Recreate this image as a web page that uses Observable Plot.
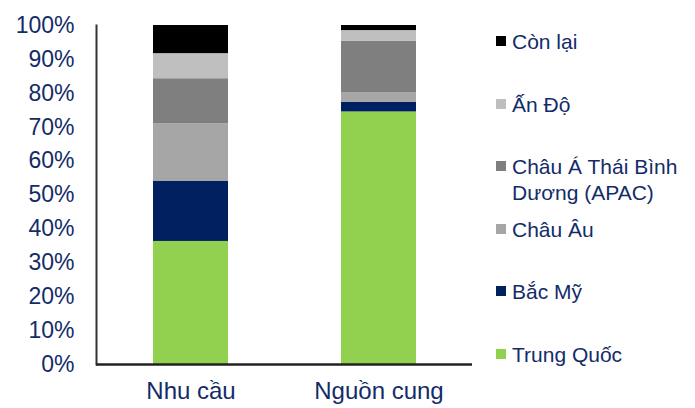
<!DOCTYPE html>
<html>
<head>
<meta charset="utf-8">
<script src="https://cdn.jsdelivr.net/npm/d3@7"></script>
<script src="https://cdn.jsdelivr.net/npm/@observablehq/plot@0.6"></script>
<style>
  html, body { margin: 0; padding: 0; background: #fff; }
  #wrap { position: relative; width: 695px; height: 408px; font-family: "Liberation Sans", Arial, sans-serif; }
  #legend { position: absolute; left: 496px; top: 29px; width: 195px; display: flex; flex-direction: column; }
  .item { height: 62.6px; display: flex; align-items: flex-start; color: #132c69; font-size: 21px; line-height: 26px; }
  .sw { width: 10px; height: 10px; flex: none; margin-top: 7px; margin-right: 6px; }
  .lbl { width: 180px; }
</style>
</head>
<body>
<div id="wrap"><div id="chart"></div><div id="legend"></div></div>
<script>
const categories = ["Nhu cầu", "Nguồn cung"];
const series = ["Trung Quốc", "Bắc Mỹ", "Châu Âu", "Châu Á Thái Bình Dương (APAC)", "Ấn Độ", "Còn lại"];
const colors = ["#92D050", "#002060", "#A6A6A6", "#7F7F7F", "#BFBFBF", "#000000"];
const trungQuoc = [36.3, 74.5];
const bacMy = [17.8, 2.8];
const chauAu = [16.9, 2.9];
const apac = [13.3, 15.1];
const anDo = [7.4, 3.2];
const conLai = [8.3, 1.5];
const yTicks = [0, 10, 20, 30, 40, 50, 60, 70, 80, 90, 100];

const seriesValues = [trungQuoc, bacMy, chauAu, apac, anDo, conLai];
const data = [];
series.forEach((s, i) => categories.forEach((c, j) => data.push({cat: c, series: s, value: seriesValues[i][j]})));

const textColor = "#132c69";
const plot = Plot.plot({
  width: 695,
  height: 408,
  marginLeft: 96,
  marginRight: 223,
  marginTop: 25,
  marginBottom: 44,
  style: {fontFamily: "'Liberation Sans', Arial, sans-serif", fontSize: "23px", background: "#fff"},
  x: {domain: categories, paddingInner: 0.602, paddingOuter: 0.2985, label: null},
  y: {domain: [0, 100], label: null},
  color: {domain: series, range: colors},
  marks: [
    Plot.barY(data, {x: "cat", y: "value", fill: "series", order: series}),
    Plot.axisY({ticks: yTicks, tickFormat: d => d + "%", tickSize: 0, tickPadding: 22, fill: textColor, label: null}),
    Plot.axisX({tickSize: 0, tickPadding: 17, fill: textColor, fontSize: 24, label: null}),
    Plot.frame({anchor: "left", stroke: "#333", strokeWidth: 2}),
    Plot.ruleY([0], {stroke: "#222", strokeWidth: 2.5})
  ]
});
document.getElementById("chart").appendChild(plot);

const legend = document.getElementById("legend");
series.slice().reverse().forEach(s => {
  const i = series.indexOf(s);
  const item = document.createElement("div");
  item.className = "item";
  item.innerHTML = `<span class="sw" style="background:${colors[i]}"></span><span class="lbl">${s}</span>`;
  legend.appendChild(item);
});
</script>
</body>
</html>
